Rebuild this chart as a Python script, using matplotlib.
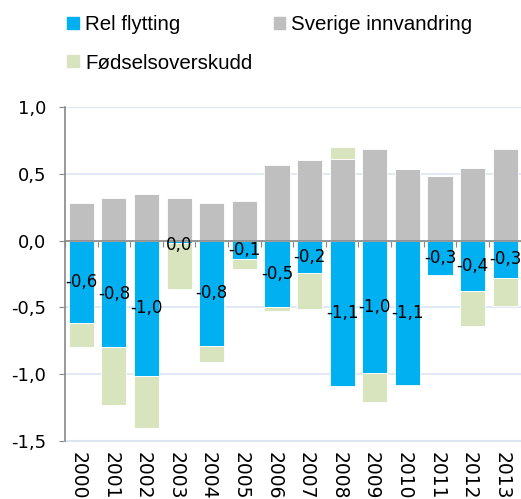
import matplotlib.pyplot as plt
import numpy as np

plt.rcParams['font.family'] = ['DejaVu Sans']

years = ['2000', '2001', '2002', '2003', '2004', '2005', '2006',
         '2007', '2008', '2009', '2010', '2011', '2012', '2013']
rel_flytting = [-0.62, -0.80, -1.01, -0.02, -0.79, -0.14, -0.50,
                -0.24, -1.09, -0.99, -1.08, -0.26, -0.38, -0.28]
sverige_innv = [0.28, 0.32, 0.35, 0.32, 0.28, 0.30, 0.565,
                0.60, 0.61, 0.685, 0.535, 0.485, 0.545, 0.685]
fodsel = [-0.18, -0.43, -0.39, -0.34, -0.12, -0.07, -0.03,
          -0.27, 0.09, -0.22, 0.0, 0.0, -0.26, -0.21]

c_blue = '#00B0F0'
c_grey = '#BFBFBF'
c_green = '#D7E4BD'

fig = plt.figure(figsize=(5.21, 4.99), dpi=100)
ax = fig.add_axes([0.1248, 0.1162, 0.8762, 0.6694])

x = np.arange(len(years))
w = 0.77
rel = np.array(rel_flytting)
sve = np.array(sverige_innv)
fod = np.array(fodsel)
fod_bottom = np.where(fod >= 0, sve, rel)

ax.bar(x, sve, w, color=c_grey, edgecolor='white', linewidth=0.6, zorder=3)
ax.bar(x, rel, w, color=c_blue, edgecolor='white', linewidth=0.6, zorder=3)
ax.bar(x, fod, w, bottom=fod_bottom, color=c_green, edgecolor='white',
       linewidth=0.6, zorder=3)

# etiketter midt i de blå søylene
for xi, v in zip(x, rel):
    s = f"{round(v, 1) + 0:.1f}".replace('.', ',')
    ax.text(xi, min(v / 2, -0.03), s, ha='center', va='center',
            fontsize=12, zorder=5)

ax.set_xlim(-0.5, len(years) - 0.5)
ax.set_ylim(-1.5, 1.0)
ticks = [-1.5, -1.0, -0.5, 0.0, 0.5, 1.0]
ax.set_yticks(ticks)
ax.set_yticklabels([f"{t:.1f}".replace('.', ',') for t in ticks], fontsize=13)
ax.yaxis.grid(True, color='#DCE6F2', linewidth=1.2, zorder=0)
ax.set_axisbelow(True)

for side in ['top', 'right']:
    ax.spines[side].set_visible(False)
ax.spines['left'].set_color('#888888')
ax.spines['left'].set_linewidth(1.2)
ax.spines['bottom'].set_position(('data', 0))
ax.spines['bottom'].set_color('#888888')
ax.spines['bottom'].set_linewidth(1.2)
ax.spines['bottom'].set_zorder(4)
ax.tick_params(axis='y', length=4.5, color='#888888', pad=9)

ax.set_xticks(np.arange(-0.5, len(years), 1.0))
ax.set_xticklabels([])
ax.tick_params(axis='x', length=4.5, color='#888888', direction='out')
for xi, yr in zip(x, years):
    ax.text(xi - 0.1, -1.58, yr, rotation=270, ha='center', va='top',
            fontsize=13.5, clip_on=False)

ax.axhline(-1.5, color='#DCE6F2', linewidth=1.5, zorder=1, clip_on=False)

handles = [plt.Rectangle((0, 0), 1, 1, color=c) for c in (c_blue, c_green, c_grey)]
labels = ['Rel flytting', 'Fødselsoverskudd', 'Sverige innvandring']
fig.legend(handles, labels, loc='upper left', bbox_to_anchor=(0.094, 1.007),
           ncol=2, frameon=False, handlelength=0.55,
           handleheight=0.55, handletextpad=0.3, columnspacing=1.05,
           labelspacing=0.95, prop={'family': ['Liberation Sans'], 'size': 14.8})

fig.savefig('out.png', dpi=100)
